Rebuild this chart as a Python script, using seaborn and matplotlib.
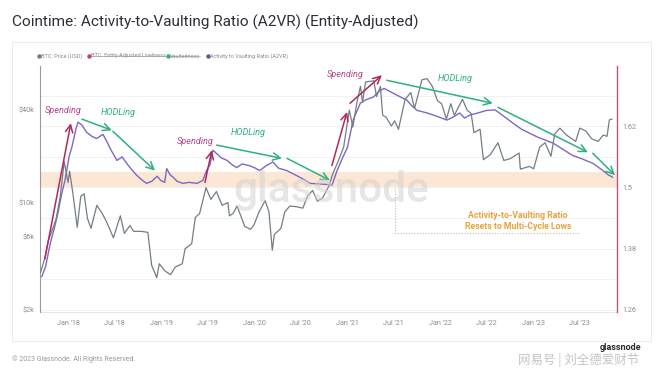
import matplotlib
matplotlib.use("Agg")
import matplotlib.pyplot as plt
import matplotlib.dates as mdates
from matplotlib import font_manager
from matplotlib.patches import Rectangle
from matplotlib.lines import Line2D
from matplotlib.ticker import FixedLocator, NullLocator
import seaborn as sns
import pandas as pd

# ---------------- data ----------------
btc_dates = ["2017-09-15", "2017-10-01", "2017-10-15", "2017-11-01", "2017-11-15", "2017-12-01",
             "2017-12-17", "2018-01-01", "2018-01-07", "2018-01-20", "2018-02-06", "2018-02-20",
             "2018-03-05", "2018-03-18", "2018-04-01", "2018-04-24", "2018-05-15", "2018-06-01",
             "2018-06-28", "2018-07-25", "2018-08-10", "2018-09-01", "2018-09-15", "2018-10-15",
             "2018-11-10", "2018-11-25", "2018-12-15", "2018-12-25", "2019-01-15", "2019-02-07",
             "2019-02-25", "2019-03-25", "2019-04-05", "2019-05-01", "2019-05-15", "2019-06-01",
             "2019-06-26", "2019-07-15", "2019-08-06", "2019-08-28", "2019-09-20", "2019-09-26",
             "2019-10-10", "2019-10-26", "2019-11-25", "2019-12-18", "2020-01-01", "2020-01-20",
             "2020-02-13", "2020-02-28", "2020-03-12", "2020-03-20", "2020-04-15", "2020-04-30",
             "2020-05-20", "2020-06-15", "2020-07-10", "2020-07-28", "2020-08-17", "2020-09-05",
             "2020-09-25", "2020-10-20", "2020-11-05", "2020-11-25", "2020-12-17", "2021-01-08",
             "2021-01-22", "2021-02-08", "2021-02-21", "2021-03-01", "2021-03-13", "2021-04-14",
             "2021-04-25", "2021-05-10", "2021-05-19", "2021-06-01", "2021-06-22", "2021-07-05",
             "2021-07-20", "2021-08-15", "2021-09-06", "2021-09-21", "2021-10-20", "2021-11-09",
             "2021-11-30", "2021-12-20", "2022-01-05", "2022-01-24", "2022-02-10", "2022-02-24",
             "2022-03-28", "2022-04-15", "2022-05-01", "2022-05-12", "2022-06-05", "2022-06-18",
             "2022-07-15", "2022-08-14", "2022-09-06", "2022-10-01", "2022-11-05", "2022-11-10",
             "2022-12-15", "2023-01-01", "2023-01-25", "2023-02-15", "2023-03-10", "2023-03-25",
             "2023-04-14", "2023-05-10", "2023-06-15", "2023-07-01", "2023-07-25", "2023-08-17",
             "2023-09-11", "2023-10-01", "2023-10-16", "2023-10-25", "2023-11-05"]
btc_price = [3500, 4300, 5600, 6700, 7800, 10900,
             18500, 13500, 16000, 11500, 6900, 11000,
             11400, 7900, 6800, 9600, 8500, 7500,
             5900, 8200, 6300, 7100, 6500, 6500,
             6400, 3900, 3250, 4000, 3600, 3400,
             3800, 4000, 5000, 5400, 8000, 8500,
             12500, 10500, 11800, 9600, 10000, 8200,
             8500, 9500, 7000, 6700, 7200, 8700,
             10300, 8700, 4900, 6200, 6800, 8700,
             9500, 9400, 9200, 11000, 12000, 10200,
             10700, 12800, 15500, 18500, 23000, 40000,
             31000, 46000, 57000, 45000, 61000, 62000,
             49000, 57000, 37000, 36000, 31500, 34000,
             30000, 47000, 52000, 41000, 63000, 64000,
             57000, 46000, 44000, 35000, 44000, 37000,
             47000, 40000, 38000, 28500, 30000, 19000,
             20500, 24500, 18800, 19300, 21000, 16500,
             17200, 16600, 23000, 24500, 20000, 28000,
             30500, 27500, 25000, 30500, 29200, 26000,
             25000, 27500, 27000, 34500, 35000]

a2vr_dates = ["2017-09-20", "2017-10-05", "2017-10-23", "2017-11-08", "2017-11-22", "2017-12-08",
              "2017-12-20", "2018-01-05", "2018-01-16", "2018-02-01", "2018-02-09", "2018-02-25",
              "2018-03-15", "2018-04-05", "2018-04-23", "2018-05-18", "2018-06-02", "2018-06-20",
              "2018-07-12", "2018-08-01", "2018-08-18", "2018-09-01", "2018-09-27", "2018-10-15",
              "2018-11-05", "2018-11-25", "2018-12-17", "2018-12-30", "2019-01-15", "2019-01-23",
              "2019-02-05", "2019-02-17", "2019-03-05", "2019-03-27", "2019-04-20", "2019-05-22",
              "2019-06-14", "2019-06-28", "2019-07-12", "2019-07-23", "2019-08-10", "2019-08-25",
              "2019-09-17", "2019-10-05", "2019-10-24", "2019-11-15", "2019-12-12", "2020-01-05",
              "2020-01-23", "2020-02-15", "2020-03-14", "2020-04-05", "2020-05-08", "2020-06-01",
              "2020-06-28", "2020-07-20", "2020-08-07", "2020-09-10", "2020-10-12", "2020-11-01",
              "2020-11-21", "2020-12-10", "2021-01-01", "2021-01-23", "2021-02-20", "2021-03-15",
              "2021-04-12", "2021-05-08", "2021-05-25", "2021-06-28", "2021-07-25", "2021-08-22",
              "2021-09-10", "2021-10-01", "2021-11-09", "2021-12-15", "2022-01-26", "2022-02-20",
              "2022-03-17", "2022-04-05", "2022-04-27", "2022-05-20", "2022-06-10", "2022-07-01",
              "2022-08-03", "2022-09-05", "2022-10-12", "2022-11-15", "2022-12-17", "2023-01-20",
              "2023-03-18", "2023-04-25", "2023-06-02", "2023-07-10", "2023-08-22", "2023-09-25",
              "2023-10-20", "2023-11-07"]
a2vr_values = [1.325, 1.345, 1.390, 1.420, 1.449, 1.490,
               1.514, 1.560, 1.579, 1.615, 1.628, 1.622,
               1.608, 1.600, 1.596, 1.604, 1.590, 1.572,
               1.553, 1.560, 1.548, 1.539, 1.524, 1.516,
               1.508, 1.512, 1.522, 1.514, 1.510, 1.537,
               1.525, 1.520, 1.512, 1.508, 1.510, 1.508,
               1.514, 1.533, 1.545, 1.573, 1.565, 1.558,
               1.553, 1.545, 1.539, 1.546, 1.543, 1.538,
               1.533, 1.542, 1.550, 1.538, 1.533, 1.527,
               1.520, 1.514, 1.508, 1.507, 1.506, 1.504,
               1.533, 1.555, 1.579, 1.632, 1.665, 1.672,
               1.677, 1.690, 1.694, 1.685, 1.678, 1.671,
               1.660, 1.651, 1.646, 1.640, 1.632, 1.638,
               1.646, 1.636, 1.642, 1.645, 1.648, 1.651,
               1.652, 1.640, 1.626, 1.614, 1.606, 1.598,
               1.587, 1.575, 1.563, 1.556, 1.547, 1.535,
               1.525, 1.520]

left_ticks = [2000, 6000, 10000, 40000]
left_labels = ["$2k", "$6k", "$10k", "$40k"]
right_ticks = [1.26, 1.38, 1.5, 1.62]
right_labels = ["1.26", "1.38", "1.5", "1.62"]
x_tick_dates = ["2018-01-01", "2018-07-01", "2019-01-01", "2019-07-01", "2020-01-01", "2020-07-01",
                "2021-01-01", "2021-07-01", "2022-01-01", "2022-07-01", "2023-01-01", "2023-07-01"]
x_tick_labels = ["Jan '18", "Jul '18", "Jan '19", "Jul '19", "Jan '20", "Jul '20",
                 "Jan '21", "Jul '21", "Jan '22", "Jul '22", "Jan '23", "Jul '23"]
band_low, band_high = 1.50, 1.53

title = "Cointime: Activity-to-Vaulting Ratio (A2VR) (Entity-Adjusted)"
legend_items = ["BTC: Price (USD)", "BTC: Entity-Adjusted Liveliness", "Vaultedness",
                "Activity to Vaulting Ratio (A2VR)"]

# ---------------- style ----------------
sns.set_theme(style="white")
plt.rcParams['font.family'] = ['Roboto', 'DejaVu Sans']
names = {f.name for f in font_manager.fontManager.ttflist}
title_family = ['Liberation Sans Narrow', 'Roboto'] if 'Liberation Sans Narrow' in names else ['Roboto']

PRICE_C = "#727e84"
A2VR_C = "#7c68c4"
SPEND_ARROW = "#b0285c"
SPEND_TEXT = "#b4468c"
HODL_C = "#2fb07f"
GRID_C = "#f1f1f1"
TICK_C = "#8c8c8c"

W, H = 660, 381
fig = plt.figure(figsize=(W / 100, H / 100), dpi=100)
fig.patch.set_facecolor("white")

def fx(px):
    return px / W

def fy(py):
    return 1 - py / H

# card
fig.add_artist(Rectangle((fx(12), fy(341)), fx(651) - fx(12), fy(42) - fy(341),
                         transform=fig.transFigure, facecolor="white", edgecolor="#ececec", lw=0.8, zorder=0))

ax2 = fig.add_axes([fx(40), fy(312), fx(617) - fx(40), fy(66) - fy(312)])
ax = ax2.twinx()  # price axis placed on top
ax.patch.set_visible(False)

df_btc = pd.DataFrame({"date": pd.to_datetime(btc_dates), "price": btc_price})
df_a2 = pd.DataFrame({"date": pd.to_datetime(a2vr_dates), "a2vr": a2vr_values})

# grid + band on A2VR axis
for g in [1.26, 1.32, 1.38, 1.44, 1.5, 1.56, 1.62, 1.68, 1.74]:
    ax2.axhline(g, color=GRID_C, lw=0.7, zorder=0)
ax2.axhspan(band_low, band_high, color="#fcdcc2", alpha=0.7, lw=0, zorder=1)

sns.lineplot(data=df_a2, x="date", y="a2vr", ax=ax2, color=A2VR_C, linewidth=1.0, zorder=3)
sns.lineplot(data=df_btc, x="date", y="price", ax=ax, color=PRICE_C, linewidth=0.9, zorder=3)

xmin, xmax = pd.Timestamp("2017-09-13"), pd.Timestamp("2023-11-24")
ax2.set_xlim(xmin, xmax)
ax2.set_ylim(1.256, 1.738)
ax.set_yscale("log")
ax.set_ylim(1941, 77400)

# price axis is visually the LEFT one; A2VR axis the RIGHT one
ax.yaxis.tick_left()
ax.yaxis.set_label_position("left")
ax2.yaxis.tick_right()
ax2.yaxis.set_label_position("right")

ax.yaxis.set_major_locator(FixedLocator(left_ticks))
ax.yaxis.set_minor_locator(NullLocator())
ax.set_yticklabels(left_labels)
ax2.yaxis.set_major_locator(FixedLocator(right_ticks))
ax2.set_yticklabels(right_labels)
ax2.set_xticks(pd.to_datetime(x_tick_dates))
ax2.set_xticklabels(x_tick_labels)

for a in (ax, ax2):
    a.set_xlabel("")
    a.set_ylabel("")
    a.grid(False)
    a.tick_params(axis="both", length=0, labelsize=5.2, labelcolor=TICK_C, pad=4)
    for s in a.spines.values():
        s.set_visible(False)
ax2.tick_params(axis="x", pad=6)
ax.spines["left"].set_visible(True)
ax.spines["left"].set_color("#9a9a9a")
ax.spines["left"].set_linewidth(0.8)
ax.spines["right"].set_visible(True)
ax.spines["right"].set_color("#b8587e")
ax.spines["right"].set_linewidth(1.0)
ax2.spines["bottom"].set_visible(True)
ax2.spines["bottom"].set_color("#e6e6e6")
ax2.spines["bottom"].set_linewidth(0.7)

# ---------------- annotations (in A2VR coordinates) ----------------
def d(s):
    return mdates.date2num(pd.Timestamp(s))

def arrow(t0, v0, t1, v1, color):
    ax.annotate("", xy=(d(t1), v1), xytext=(d(t0), v0),
                xycoords=ax2.transData, textcoords=ax2.transData,
                arrowprops=dict(arrowstyle="->,head_length=0.45,head_width=0.22", color=color,
                                lw=1.1, shrinkA=0, shrinkB=0), zorder=6)

def label(t, v, s, color, ha="center"):
    ax.text(d(t), v, s, transform=ax2.transData, color=color, fontsize=6.6, style="italic",
            ha=ha, va="center", zorder=6)

# Spending 1
arrow("2017-10-02", 1.360, "2018-01-12", 1.626, SPEND_ARROW)
label("2017-10-02", 1.651, "Spending", SPEND_TEXT, ha="left")
# HODLing 1
arrow("2018-02-24", 1.634, "2018-06-22", 1.612, HODL_C)
arrow("2018-06-26", 1.610, "2018-12-08", 1.533, HODL_C)
label("2018-07-15", 1.646, "HODLing", HODL_C)
# Spending 2
arrow("2019-06-22", 1.510, "2019-07-19", 1.573, SPEND_ARROW)
label("2019-05-14", 1.590, "Spending", SPEND_TEXT)
# HODLing 2
arrow("2019-08-07", 1.583, "2020-04-19", 1.557, HODL_C)
arrow("2020-05-09", 1.557, "2020-10-24", 1.514, HODL_C)
label("2019-12-07", 1.608, "HODLing", HODL_C)
# Spending 3
arrow("2020-11-01", 1.543, "2020-12-30", 1.648, SPEND_ARROW)
arrow("2021-01-11", 1.665, "2021-05-16", 1.720, SPEND_ARROW)
label("2020-12-22", 1.722, "Spending", SPEND_TEXT)
# HODLing 3
arrow("2021-06-04", 1.710, "2022-07-25", 1.665, HODL_C)
arrow("2022-08-14", 1.657, "2023-08-02", 1.569, HODL_C)
arrow("2023-08-21", 1.567, "2023-11-16", 1.524, HODL_C)
label("2022-02-26", 1.714, "HODLing", HODL_C)

# callout
ax.plot([d("2021-07-06"), d("2021-07-06"), d("2023-07-01")], [1.498, 1.411, 1.411],
        transform=ax2.transData, color="#c8bb9e", lw=0.8, ls=(0, (1, 1.5)), zorder=5)
ax.text(d("2022-11-01"), 1.434, "Activity-to-Vaulting Ratio\nResets to Multi-Cycle Lows",
        transform=ax2.transData, ha="center", va="center", color="#e9a23b", fontsize=6.3,
        fontweight="bold", linespacing=1.35, zorder=6)

# ---------------- figure texts ----------------
t_title = fig.text(fx(12), fy(22), title, fontsize=11, color="#2e2e38", ha="left", va="center",
                   family=title_family)
wm = fig.text(fx(331), fy(190), "glassnode", fontsize=28, color="#d2d2d2", alpha=0.55,
              ha="center", va="center", fontweight="medium", zorder=10)
fig.text(fx(12), fy(359), "\u00a9 2023 Glassnode. All Rights Reserved.", fontsize=5, color="#9a9a9a",
         ha="left", va="center")
fig.text(fx(518), fy(359.5), "网易号 | 刘全德爱财节", fontsize=9, color="#c4c4c4", ha="left", va="center",
         family=["Noto Sans CJK SC", "DejaVu Sans"], zorder=9)
fig.text(fx(620), fy(347), "glassnode", fontsize=6.5, color="#2b2b2b", ha="center", va="center",
         fontweight="bold", zorder=10)

# legend
leg_x = [37, 87, 166, 206]
leg_colors = [PRICE_C, "#d0405a", "#2fb07f", "#5a5a8a"]
leg_texts = []
for lx, txt, c in zip(leg_x, legend_items, leg_colors):
    fig.add_artist(Line2D([fx(lx + 1.5)], [fy(56)], marker="o", markersize=2.2, color=c,
                          transform=fig.transFigure, lw=0))
    leg_texts.append(fig.text(fx(lx + 4), fy(56), txt, fontsize=4.0, color="#8a8a8a",
                              ha="left", va="center"))

# fit text widths to the reference
fig.canvas.draw()
r = fig.canvas.get_renderer()
tw = t_title.get_window_extent(r).width
t_title.set_fontsize(11 * 405 / tw)
ww = wm.get_window_extent(r).width
wm.set_fontsize(28 * 196 / ww)
fig.canvas.draw()
for i in (1, 2):
    bb = leg_texts[i].get_window_extent(r)
    fig.add_artist(Line2D([bb.x0 / W, bb.x1 / W], [fy(56), fy(56)], color="#8a8a8a", lw=0.4,
                          transform=fig.transFigure))

fig.savefig("out.png", dpi=100, facecolor="white")
